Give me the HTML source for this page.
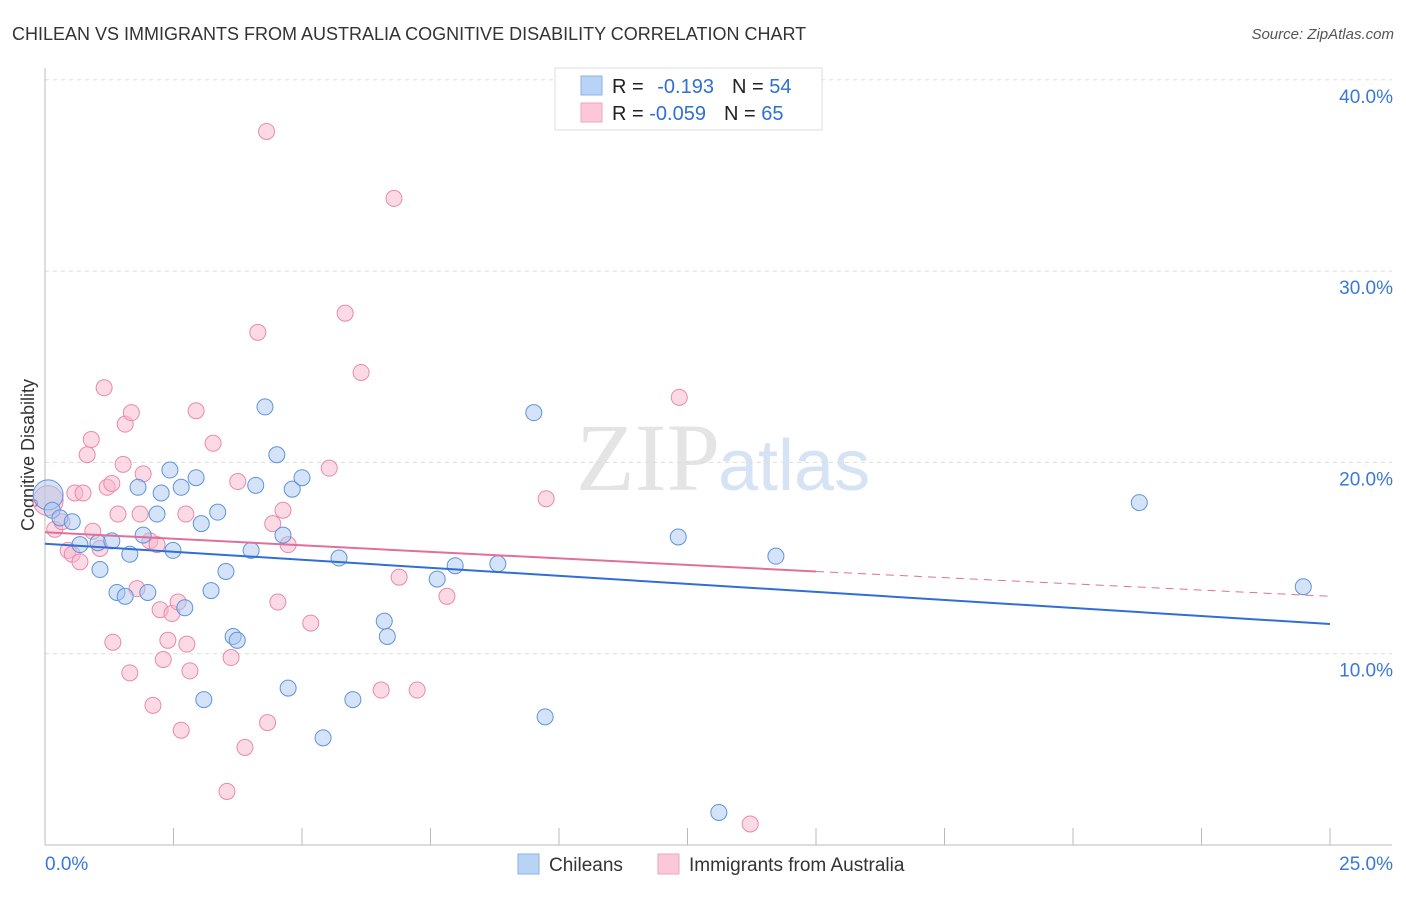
<!DOCTYPE html>
<html><head><meta charset="utf-8"><style>
body{margin:0;background:#fff;font-family:"Liberation Sans",sans-serif}
</style></head><body>
<svg width="1406" height="892" xmlns="http://www.w3.org/2000/svg" style="font-family:'Liberation Sans',sans-serif">
<text x="12" y="40" font-size="18" fill="#333">CHILEAN VS IMMIGRANTS FROM AUSTRALIA COGNITIVE DISABILITY CORRELATION CHART</text>
<text x="1394" y="39" font-size="15" fill="#555" font-style="italic" text-anchor="end">Source: ZipAtlas.com</text>
<text x="720" y="490" font-size="96" fill="#e4e4e4" text-anchor="end" font-family="Liberation Serif">ZIP</text>
<text x="718" y="490" font-size="72" fill="#d6e3f4">atlas</text>
<g id="grid"></g>
<g id="axes"></g>
<text transform="translate(34,455) rotate(-90)" font-size="18" fill="#333" text-anchor="middle">Cognitive Disability</text>
<g id="points"></g>
<g id="lines"></g>
<g>
<rect x="555" y="68" width="267" height="62" fill="#fff" stroke="#ddd"/>
<rect x="581" y="76" width="21" height="19" fill="#b8d3f5" stroke="#8ab2e8"/>
<rect x="581" y="103" width="21" height="19" fill="#fac8d8" stroke="#f0a5bd"/>
<text x="612" y="93" font-size="20" fill="#222">R = <tspan fill="#2f6fd6" dx="8">-0.193</tspan><tspan dx="18" fill="#222">N = </tspan><tspan fill="#2f6fd6">54</tspan></text>
<text x="612" y="120" font-size="20" fill="#222">R = <tspan fill="#2f6fd6">-0.059</tspan><tspan dx="18" fill="#222">N = </tspan><tspan fill="#2f6fd6">65</tspan></text>
</g>
<g>
<rect x="518" y="854" width="21" height="20" fill="#b8d3f5" stroke="#8ab2e8"/>
<text x="549" y="871" font-size="19" fill="#333">Chileans</text>
<rect x="658" y="854" width="21" height="20" fill="#fac8d8" stroke="#f0a5bd"/>
<text x="689" y="871" font-size="19" fill="#333">Immigrants from Australia</text>
</g>
</svg>
<script>
const yTicks=[10,20,30,40];
const yTickLabels=["10.0%","20.0%","30.0%","40.0%"];
const xTicks=[0,2.5,5,7.5,10,12.5,15,17.5,20,22.5,25];
const blueX=[0.06,0.14,0.29,0.53,0.68,1.03,1.07,1.3,1.65,1.4,1.56,1.81,1.91,2.0,2.18,2.26,2.43,2.49,2.65,2.72,2.94,3.04,3.09,3.23,3.36,3.52,3.66,3.74,4.01,4.1,4.28,4.51,4.63,4.73,4.81,5.0,5.41,5.72,5.99,6.6,6.66,7.63,7.98,8.81,9.51,9.73,12.32,13.11,14.22,21.29,24.48];
const blueY=[18.3,17.5,17.1,16.9,15.7,15.8,14.4,15.9,15.2,13.2,13.0,18.7,16.2,13.2,17.3,18.4,19.6,15.4,18.7,12.4,19.2,16.8,7.6,13.3,17.4,14.3,10.9,10.7,15.4,18.8,22.9,20.4,16.2,8.2,18.6,19.2,5.6,15.0,7.6,11.7,10.9,13.9,14.6,14.7,22.6,6.7,16.1,1.7,15.1,17.9,13.5];
const pinkX=[0.06,0.19,0.33,0.45,0.58,0.53,0.68,0.74,0.82,0.9,0.93,1.07,1.15,1.21,1.3,1.32,1.42,1.52,1.56,1.65,1.68,1.79,1.85,1.91,2.04,2.1,2.18,2.24,2.3,2.39,2.47,2.59,2.65,2.74,2.76,2.82,2.94,3.27,3.54,3.62,3.75,3.89,4.14,4.31,4.33,4.43,4.53,4.63,4.73,5.17,5.53,5.84,6.15,6.54,6.79,6.89,7.24,7.82,9.75,12.34,13.72];
const pinkY=[18.0,16.5,16.9,15.4,18.4,15.2,14.8,18.4,20.4,21.2,16.4,15.5,23.9,18.7,18.9,10.6,17.3,19.9,22.0,9.0,22.6,13.4,17.3,19.4,15.9,7.3,15.7,12.3,9.7,10.7,12.1,12.7,6.0,17.3,10.5,9.1,22.7,21.0,2.8,9.8,19.0,5.1,26.8,37.3,6.4,16.8,12.7,17.5,15.7,11.6,19.7,27.8,24.7,8.1,33.8,14.0,8.1,13.0,18.1,23.4,1.1];
const blueLine=[0,15.75,25,11.55];
const pinkLine=[0,16.35,15,14.3,25,13.0];
const NS="http://www.w3.org/2000/svg";
const X=v=>45+v/25*1285, Y=v=>845-v*19.13;
function mk(t,a,p){const e=document.createElementNS(NS,t);for(const k in a)e.setAttribute(k,a[k]);p.appendChild(e);return e;}
const grid=document.getElementById('grid'),axes=document.getElementById('axes'),pts=document.getElementById('points'),lines=document.getElementById('lines');
yTicks.forEach((t,i)=>{
 const l=mk('line',{x1:45,x2:1392,y1:Y(t),y2:Y(t),stroke:'#ddd','stroke-dasharray':'4,4'},grid);
 
 
 const tx=mk('text',{x:1393,y:Y(t)+23,'font-size':19,fill:'#3a78d8','text-anchor':'end'},axes);
 tx.textContent=yTickLabels[i];
 
 
});
const ax=mk('line',{x1:45,x2:1392,y1:845,y2:845,stroke:'#bbb'},axes);


const ay=mk('line',{x1:45,x2:45,y1:68,y2:845,stroke:'#bbb'},axes);


xTicks.forEach(t=>{const l=mk('line',{x1:X(t),x2:X(t),y1:828,y2:845,stroke:'#bbb'},axes);
 
 });
const x0=mk('text',{x:45,y:870,'font-size':19,fill:'#3a78d8'},axes);x0.textContent='0.0%';


const x1=mk('text',{x:1393,y:870,'font-size':19,fill:'#3a78d8','text-anchor':'end'},axes);x1.textContent='25.0%';


function dots(xs,ys,fill,stroke,name){xs.forEach((x,i)=>{const r=i===0?15:8;
 const c=mk('circle',{cx:X(x),cy:Y(ys[i]),r:r,fill:fill,'fill-opacity':0.5,stroke:stroke,'stroke-width':1},pts);
 
 });}
dots(pinkX,pinkY,'#f7b6cb','#e88aab','pink-point');
dots(blueX,blueY,'#a9c8f0','#5f93dc','blue-point');
const bl=mk('line',{x1:X(blueLine[0]),y1:Y(blueLine[1]),x2:X(blueLine[2]),y2:Y(blueLine[3]),stroke:'#2f6fd6','stroke-width':2},lines);


const pl=mk('line',{x1:X(pinkLine[0]),y1:Y(pinkLine[1]),x2:X(pinkLine[2]),y2:Y(pinkLine[3]),stroke:'#e0709a','stroke-width':2},lines);


const pd=mk('line',{x1:X(pinkLine[2]),y1:Y(pinkLine[3]),x2:X(pinkLine[4]),y2:Y(pinkLine[5]),stroke:'#e0709a','stroke-width':1,'stroke-dasharray':'8,6'},lines);


</script>
</body></html>
